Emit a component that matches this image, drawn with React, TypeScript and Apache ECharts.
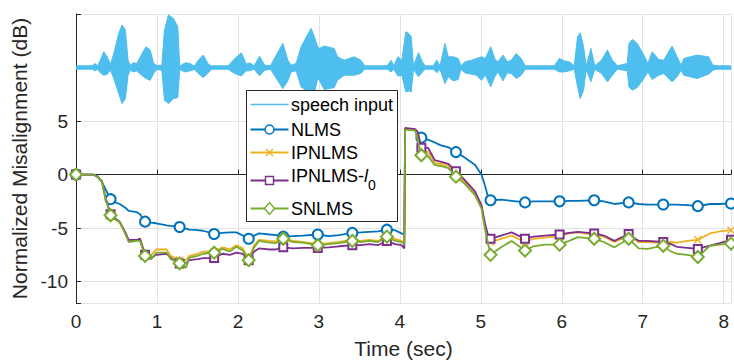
import React, { useEffect, useRef } from "react";
import * as echarts from "echarts";

// Adaptive-filter misalignment curves (dB) over time, with the speech input drawn above them.
const timeSec = [
  0, 0.213, 0.26, 0.32, 0.36, 0.427, 0.47, 0.54, 0.61, 0.65, 0.75, 0.79, 0.853, 0.93, 0.99, 1.12, 1.17,
  1.28, 1.36, 1.4, 1.5, 1.57, 1.706, 1.81, 1.9, 1.98, 2.06, 2.133, 2.2, 2.26, 2.39, 2.47, 2.56, 2.68,
  2.8, 2.986, 3.12, 3.25, 3.413, 3.52, 3.62, 3.73, 3.84, 3.94, 4.02, 4.055, 4.065, 4.19, 4.22, 4.266,
  4.35, 4.43, 4.5, 4.6, 4.693, 4.8, 4.93, 5.01, 5.05, 5.09, 5.12, 5.25, 5.38, 5.546, 5.65, 5.79, 5.973,
  6.09, 6.2, 6.4, 6.52, 6.65, 6.826, 6.95, 7.06, 7.253, 7.35, 7.42, 7.55, 7.68, 7.83, 7.95, 8.09,
];

const markerTimes = [
  0, 0.427, 0.853, 1.28, 1.706, 2.133, 2.56, 2.986, 3.413, 3.84, 4.266, 4.693, 5.12, 5.546, 5.973, 6.4,
  6.826, 7.253, 7.68, 8.09,
];

const nlms = [
  0, 0, -0.1, -0.7, -1.3, -2.3, -2.55, -2.75, -3.1, -3.4, -3.5, -3.7, -4.4, -4.5, -4.55, -4.75, -4.8,
  -4.9, -5.05, -5.15, -5.2, -5.25, -5.55, -5.45, -5.4, -5.4, -5.7, -6.0, -5.7, -5.5, -5.6, -5.65, -5.8,
  -5.75, -5.7, -5.6, -5.75, -5.65, -5.45, -5.4, -5.35, -5.3, -5.15, -5.2, -5.5, -5.6, 4.25, 4.15, 3.7,
  3.45, 3.25, 3.0, 2.75, 2.55, 2.1, 1.6, 0.9, -0.05, -1.0, -2.1, -2.4, -2.35, -2.45, -2.6, -2.5, -2.5,
  -2.5, -2.45, -2.45, -2.4, -2.5, -2.75, -2.6, -2.75, -2.8, -2.8, -2.8, -2.8, -2.85, -2.95, -2.75,
  -2.75, -2.7,
];

const ipnlms = [
  0, 0, -0.2, -0.6, -2.1, -3.9, -4.1, -4.5, -5.5, -6.2, -6.15, -5.95, -7.5, -7.5, -7.0, -7.0, -7.6,
  -8.0, -8.0, -7.6, -7.4, -7.2, -7.2, -6.8, -7.0, -6.6, -6.9, -7.9, -6.6, -6.1, -6.2, -6.25, -6.0,
  -6.2, -6.3, -6.5, -6.4, -6.3, -6.1, -6.2, -6.1, -6.2, -5.7, -6.0, -6.2, -6.4, 4.3, 4.2, 3.6, 2.2,
  2.1, 1.1, 1.0, 0.8, 0.0, -0.7, -1.8, -3.05, -4.8, -6.1, -6.3, -6.0, -5.7, -6.3, -6.0, -5.9, -5.75,
  -5.5, -5.4, -5.6, -5.8, -6.3, -5.7, -6.3, -6.3, -6.4, -6.3, -6.35, -6.2, -6.1, -5.5, -5.3, -5.2,
];

const ipnlmsL0 = [
  0, 0, -0.2, -0.6, -2.0, -3.7, -4.0, -4.4, -5.4, -6.1, -6.1, -6.0, -7.5, -7.8, -7.5, -7.4, -7.8,
  -8.3, -8.3, -8.0, -7.9, -7.8, -7.8, -7.4, -7.5, -7.3, -7.4, -8.0, -7.2, -6.9, -7.0, -7.0, -6.8,
  -6.9, -6.85, -6.85, -6.8, -6.7, -6.6, -6.6, -6.5, -6.6, -6.2, -6.5, -6.6, -6.9, 4.35, 4.25, 4.0,
  2.5, 2.5, 1.35, 1.2, 1.0, 0.3, -0.5, -1.6, -2.9, -4.5, -5.7, -6.0, -5.7, -5.4, -6.0, -5.8, -5.7,
  -5.6, -5.45, -5.35, -5.5, -5.7, -6.2, -5.55, -6.2, -6.2, -6.3, -6.5, -6.75, -6.85, -6.95, -6.65,
  -6.4, -6.1,
];

const snlms = [
  0, 0, -0.2, -0.6, -2.1, -3.8, -4.1, -4.45, -5.55, -6.3, -6.2, -6.2, -7.6, -7.9, -7.3, -7.3, -7.9,
  -8.3, -8.7, -7.75, -7.6, -7.4, -7.3, -6.95, -7.2, -6.75, -7.1, -8.0, -6.8, -6.2, -6.35, -6.4, -6.0,
  -6.3, -6.35, -6.6, -6.5, -6.4, -6.2, -6.3, -6.2, -6.3, -5.8, -6.2, -6.3, -6.5, 4.2, 4.1, 3.2, 1.8,
  1.7, 0.9, 0.8, 0.6, -0.2, -0.85, -1.95, -3.2, -5.05, -6.45, -7.5, -6.8, -6.2, -7.1, -6.7, -6.55,
  -6.55, -6.2, -5.85, -6.0, -6.3, -6.8, -6.0, -6.9, -6.95, -6.65, -7.2, -7.4, -7.5, -7.7, -6.65,
  -6.55, -6.45,
];

// Speech input, drawn as its upper and lower envelope around a level of 10.
const speechT = [
  0.004, 0.2, 0.233, 0.266, 0.3, 0.343, 0.385, 0.426, 0.467, 0.528, 0.569, 0.61, 0.643, 0.671, 0.712,
  0.753, 0.794, 0.864, 0.917, 0.958, 0.999, 1.06, 1.093, 1.142, 1.204, 1.257, 1.281, 1.347, 1.408,
  1.462, 1.511, 1.572, 1.634, 1.674, 1.879, 1.961, 2.043, 2.104, 2.145, 2.199, 2.268, 2.33, 2.403,
  2.461, 2.555, 2.616, 2.657, 2.719, 2.78, 2.903, 2.944, 2.985, 3.005, 3.066, 3.189, 3.23, 3.312,
  3.435, 3.517, 3.566, 3.844, 3.893, 3.926, 3.976, 4.025, 4.074, 4.107, 4.14, 4.168, 4.23, 4.279,
  4.312, 4.414, 4.455, 4.496, 4.557, 4.598, 4.66, 4.721, 4.754, 4.803, 4.885, 4.947, 5.008, 5.057,
  5.122, 5.172, 5.212, 5.274, 5.327, 5.376, 5.437, 5.499, 5.548, 5.908, 5.97, 6.031, 6.093, 6.154,
  6.195, 6.228, 6.269, 6.302, 6.359, 6.408, 6.49, 6.564, 6.625, 6.687, 6.809, 6.83, 6.871, 6.932,
  7.014, 7.063, 7.117, 7.198, 7.26, 7.362, 7.424, 7.473, 7.506, 7.67, 7.813, 7.866, 7.915, 8.087,
];
const speechHi = [
  10.16, 10.16, 10.38, 10.16, 10.69, 11.47, 11.0, 10.31, 11.31, 13.19, 13.97, 13.5, 10.69, 10.22,
  10.44, 10.38, 11.0, 11.94, 11.63, 10.38, 10.19, 10.22, 13.5, 14.91, 14.59, 13.81, 10.13, 10.44,
  10.38, 10.13, 10.69, 11.16, 10.31, 10.16, 10.16, 10.84, 11.38, 10.31, 10.44, 10.16, 11.06, 10.22,
  10.16, 11.0, 12.25, 10.69, 10.22, 10.38, 11.94, 13.66, 12.88, 11.94, 11.78, 12.0, 11.78, 11.0,
  10.69, 11.0, 10.69, 10.16, 10.16, 10.69, 10.16, 11.0, 10.69, 13.34, 13.19, 12.88, 10.16, 11.38,
  10.53, 10.16, 10.16, 10.69, 10.16, 12.25, 11.0, 11.0, 10.84, 10.16, 10.53, 10.69, 10.84, 11.0,
  10.84, 11.94, 10.84, 10.53, 11.16, 10.53, 10.69, 11.31, 10.84, 10.16, 10.16, 10.84, 10.63, 10.53,
  10.16, 12.88, 13.25, 11.94, 10.16, 11.78, 10.16, 10.69, 11.63, 10.69, 10.16, 10.38, 12.25, 12.63,
  12.25, 11.16, 10.38, 11.47, 10.75, 10.69, 12.0, 11.0, 10.22, 10.84, 11.16, 11.0, 10.22, 10.16,
  10.16,
];
const speechLo = [
  9.84, 9.84, 9.69, 9.84, 9.5, 9.28, 9.38, 9.75, 8.97, 7.56, 6.63, 7.09, 9.28, 9.75, 9.59, 9.69,
  9.38, 8.97, 8.81, 9.44, 9.81, 9.75, 6.94, 6.63, 7.09, 7.19, 9.81, 9.59, 9.69, 9.81, 9.44, 9.06,
  9.5, 9.84, 9.84, 9.44, 9.22, 9.69, 9.69, 9.84, 9.22, 9.75, 9.84, 9.13, 8.03, 8.75, 9.59, 9.69,
  8.19, 7.56, 7.56, 8.97, 8.81, 7.94, 8.13, 8.81, 9.28, 9.28, 9.44, 9.84, 9.84, 9.59, 9.84, 9.2,
  9.28, 7.72, 7.81, 7.72, 9.84, 9.13, 9.59, 9.84, 9.84, 9.5, 9.84, 8.5, 9.13, 8.75, 8.88, 9.84, 9.5,
  9.38, 9.28, 8.81, 9.28, 8.19, 9.13, 9.59, 8.75, 9.5, 9.44, 8.97, 9.28, 9.84, 9.84, 9.59, 9.59,
  9.69, 9.84, 8.19, 7.09, 7.88, 9.84, 8.66, 9.84, 9.44, 8.66, 9.28, 9.84, 9.69, 8.19, 7.88, 8.13,
  8.97, 9.59, 8.88, 9.28, 9.44, 8.66, 9.13, 9.75, 9.28, 8.97, 9.38, 9.75, 9.84, 9.84,
];

const yTickLabels = [-10, -5, 0, 5];

const FONT = "'Liberation Sans', Arial, Helvetica, sans-serif";
const INK = "#262626";
const C_SPEECH = "#4DBEEE";
const C_NLMS = "#0072BD";
const C_IPNLMS = "#EDB120";
const C_L0 = "#7E2F8E";
const C_SNLMS = "#77AC30";
const X_SYMBOL = "path://M0,0L10,10M10,0L0,10";

function curve(name: string, values: number[], color: string, symbol: string, size: number, z: number) {
  return {
    type: "line",
    name,
    z,
    data: timeSec.map((t, i) =>
      markerTimes.includes(t) ? { value: [t, values[i]] } : { value: [t, values[i]], symbol: "none" }
    ),
    symbol,
    symbolSize: size,
    showSymbol: true,
    showAllSymbol: true,
    lineStyle: { color, width: 1.8 },
    itemStyle: { color, borderColor: color, borderWidth: 1.4 },
    emphasis: { disabled: true },
    silent: true,
  };
}

function legendGraphic() {
  const x0 = 250.5;
  const x1 = 288.5;
  const xm = 269.5;
  const tx = 291;
  const rows = [104.5, 129.5, 152.5, 180.5, 208.5];
  const Z = 100;
  const children: any[] = [
    {
      type: "rect",
      z: Z,
      shape: { x: 246.5, y: 90.5, width: 151, height: 131 },
      style: { fill: "#ffffff", stroke: INK, lineWidth: 1 },
    },
  ];
  const colors = [C_SPEECH, C_NLMS, C_IPNLMS, C_L0, C_SNLMS];
  rows.forEach((y, i) => {
    children.push({
      type: "line",
      z: Z + 1,
      shape: { x1: x0, y1: y, x2: x1, y2: y },
      style: { stroke: colors[i], lineWidth: i === 0 ? 1.5 : 1.8 },
    });
  });
  children.push({
    type: "circle",
    z: Z + 2,
    shape: { cx: xm, cy: rows[1], r: 4.5 },
    style: { fill: "#fff", stroke: C_NLMS, lineWidth: 1.4 },
  });
  children.push({
    type: "line",
    z: Z + 2,
    shape: { x1: xm - 3.5, y1: rows[2] - 3.5, x2: xm + 3.5, y2: rows[2] + 3.5 },
    style: { stroke: C_IPNLMS, lineWidth: 1.4 },
  });
  children.push({
    type: "line",
    z: Z + 2,
    shape: { x1: xm - 3.5, y1: rows[2] + 3.5, x2: xm + 3.5, y2: rows[2] - 3.5 },
    style: { stroke: C_IPNLMS, lineWidth: 1.4 },
  });
  children.push({
    type: "rect",
    z: Z + 2,
    shape: { x: xm - 4, y: rows[3] - 4, width: 8, height: 8 },
    style: { fill: "#fff", stroke: C_L0, lineWidth: 1.4 },
  });
  children.push({
    type: "polygon",
    z: Z + 2,
    shape: {
      points: [
        [xm, rows[4] - 6],
        [xm + 5, rows[4]],
        [xm, rows[4] + 6],
        [xm - 5, rows[4]],
      ],
    },
    style: { fill: "#fff", stroke: C_SNLMS, lineWidth: 1.4 },
  });
  const plain = ["speech input", "NLMS", "IPNLMS", null, "SNLMS"];
  plain.forEach((label, i) => {
    if (!label) return;
    children.push({
      type: "text",
      z: Z + 2,
      x: tx,
      y: rows[i],
      style: {
        text: label,
        fontFamily: FONT,
        fontSize: 18,
        fill: "#000",
        verticalAlign: "middle",
        align: "left",
      },
    });
  });
  children.push({
    type: "text",
    z: Z + 2,
    x: tx,
    y: rows[3] - 14,
    style: {
      text: "{n|IPNLMS-}{i|l}{s|0}",
      fontFamily: FONT,
      fontSize: 18,
      fill: "#000",
      verticalAlign: "top",
      align: "left",
      rich: {
        n: { fontFamily: FONT, fontSize: 18, lineHeight: 20, verticalAlign: "top", fill: "#000" },
        i: {
          fontFamily: FONT,
          fontSize: 18,
          fontStyle: "italic",
          lineHeight: 20,
          verticalAlign: "top",
          fill: "#000",
        },
        s: {
          fontFamily: FONT,
          fontSize: 14,
          lineHeight: 16,
          padding: [11, 0, 0, 0],
          verticalAlign: "top",
          fill: "#000",
        },
      },
    },
  });
  return { type: "group", children };
}

// The speech envelope as one filled polygon: upper edge left to right, lower edge back.
function renderSpeech(params: any, api: any) {
  if (params.dataIndex !== 0) return null;
  const pts: number[][] = [];
  for (let i = 0; i < speechT.length; i++) pts.push(api.coord([speechT[i], speechHi[i]]));
  for (let i = speechT.length - 1; i >= 0; i--) pts.push(api.coord([speechT[i], speechLo[i]]));
  return {
    type: "polygon",
    shape: { points: pts },
    style: { fill: C_SPEECH, stroke: C_SPEECH, lineWidth: 1 },
  };
}

export default function App() {
  const ref = useRef<HTMLDivElement>(null);

  useEffect(() => {
    if (!ref.current) return;
    const chart = echarts.init(ref.current, null, { renderer: "svg" });
    chart.setOption({
      animation: false,
      backgroundColor: "#ffffff",
      grid: { left: 76, right: 0, top: 14, bottom: 61, containLabel: false },
      xAxis: {
        type: "value",
        min: 0,
        max: 8.09,
        interval: 1,
        name: "Time (sec)",
        nameLocation: "middle",
        nameGap: 35,
        nameTextStyle: { fontFamily: FONT, fontSize: 21, color: INK },
        axisLine: { show: true, lineStyle: { color: INK, width: 1 } },
        axisTick: { show: true, inside: true, length: 5, lineStyle: { color: INK } },
        axisLabel: {
          fontFamily: FONT,
          fontSize: 19,
          color: INK,
          margin: 9,
          formatter: (v: number) => (Number.isInteger(v) ? String(v) : ""),
        },
        splitLine: { show: true, lineStyle: { color: "#e3e3e3", width: 1 } },
      },
      yAxis: {
        type: "value",
        min: -12,
        max: 15,
        splitNumber: 5,
        name: "Normalized Misalignment (dB)",
        nameLocation: "middle",
        nameGap: 44,
        nameRotate: 90,
        nameTextStyle: { fontFamily: FONT, fontSize: 21, color: INK },
        axisLine: { show: true, lineStyle: { color: INK, width: 1 } },
        axisTick: { show: true, inside: true, length: 5, lineStyle: { color: INK } },
        axisLabel: {
          fontFamily: FONT,
          fontSize: 19,
          color: INK,
          margin: 8,
          formatter: (v: number) => (yTickLabels.includes(v) ? String(v) : ""),
        },
        splitLine: { show: true, lineStyle: { color: "#e3e3e3", width: 1 } },
      },
      series: [
        {
          type: "custom",
          name: "speech input",
          data: speechT.map((t, i) => [t, speechHi[i], speechLo[i]]),
          encode: { x: 0, y: [1, 2] },
          renderItem: renderSpeech,
          silent: true,
          z: 2,
        },
        curve("NLMS", nlms, C_NLMS, "emptyCircle", 10, 3),
        curve("IPNLMS", ipnlms, C_IPNLMS, X_SYMBOL, 7, 4),
        curve("IPNLMS-l0", ipnlmsL0, C_L0, "emptyRect", 8, 5),
        curve("SNLMS", snlms, C_SNLMS, "emptyDiamond", 12, 6),
      ],
      graphic: [legendGraphic()],
    });
    return () => chart.dispose();
  }, []);

  return (
    <div
      ref={ref}
      style={{ position: "absolute", left: 0, top: 0, width: 734, height: 364, background: "#fff" }}
    />
  );
}
